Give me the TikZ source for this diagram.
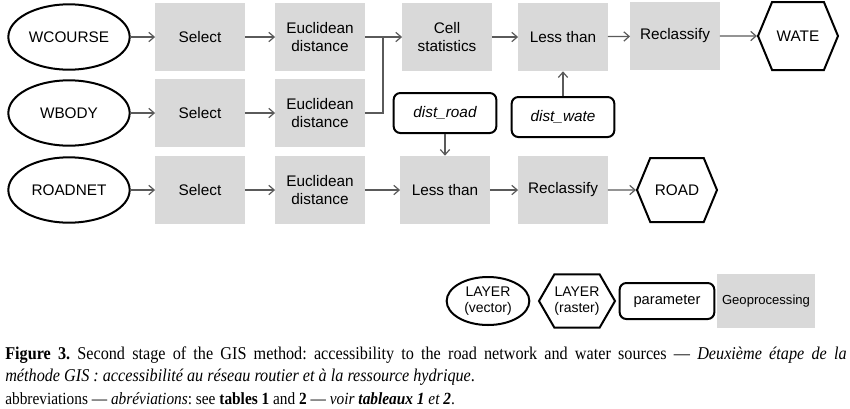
\documentclass[tikz,border=0pt]{standalone}
\usepackage{fontspec}
\setmainfont{Liberation Serif}[FakeStretch=0.9]
\newfontfamily\diafont{Liberation Sans}
\usepackage{tikz}
\usetikzlibrary{shapes.geometric, shapes.symbols, arrows.meta, positioning}
\definecolor{procgray}{RGB}{217,217,217}
\definecolor{flowgray}{RGB}{90,90,90}
\tikzset{
  layer/.style={ellipse, draw=black, fill=white, line width=1.5pt,
    minimum width=91pt, minimum height=49pt, inner sep=0pt,
    font=\diafont\fontsize{11.5}{13.5}\selectfont, align=center},
  raster/.style={signal, signal to=west and east, signal pointer angle=135,
    draw=black, fill=white, line width=1.5pt, inner sep=0pt,
    minimum width=60pt, minimum height=50pt,
    font=\diafont\fontsize{11.5}{13.5}\selectfont, align=center},
  proc/.style={rectangle, fill=procgray, minimum width=67pt,
    minimum height=51pt, inner sep=2pt, align=center,
    font=\diafont\fontsize{11.5}{13.5}\selectfont},
  param/.style={rectangle, draw=black, fill=white, line width=1.5pt,
    rounded corners=5pt, minimum width=77pt, minimum height=30pt,
    font=\diafont\itshape\fontsize{11.5}{13.5}\selectfont},
  flow/.style={-{Straight Barb[length=4pt, width=7pt]}, color=flowgray, line width=0.9pt},
  line/.style={color=flowgray, line width=0.9pt}
}

\begin{document}
\frenchspacing
\begin{tikzpicture}[x=0.75pt, y=-0.75pt]
  \useasboundingbox (0,0) rectangle (850,408);

  % water courses
  \node[layer] (wcourse) at (69,37) {WCOURSE};
  \node[proc] (selwc) at (200,37) {Select};
  \node[proc] (eucwc) at (320,37) {Euclidean\\distance};
  \node[proc] (cellst) at (447,37) {Cell\\statistics};
  \node[proc] (lesswa) at (563,37) {Less than};
  \node[proc] (reclwa) at (675,36) {Reclassify};
  \node[raster, minimum height=51pt] (wate) at (798,36) {WATE};

  % water bodies
  \node[layer] (wbody) at (69,113) {WBODY};
  \node[proc] (selwb) at (200,113) {Select};
  \node[proc] (eucwb) at (320,113) {Euclidean\\distance};
  \node[param] (distroad) at (445,113) {dist\_road};
  \node[param] (distwate) at (563,117) {dist\_wate};

  % road network
  \node[layer] (roadnet) at (69,190) {ROADNET};
  \node[proc] (selrd) at (200,190) {Select};
  \node[proc] (eucrd) at (320,190) {Euclidean\\distance};
  \node[proc] (lessrd) at (445,190) {Less than};
  \node[proc] (reclrd) at (563,190) {Reclassify};
  \node[raster, minimum height=48pt] (road) at (677,190) {ROAD};

  \coordinate (join) at (383,37);

  \draw[flow] (wcourse) -- (selwc);
  \draw[flow] (selwc) -- (eucwc);
  \draw[flow] (eucwc) -- (cellst);
  \draw[line] (eucwb.east) -| (join);
  \draw[flow] (cellst) -- (lesswa);
  \draw[flow] (lesswa) -- (reclwa);
  \draw[flow] (reclwa) -- (wate);
  \draw[flow] (distwate) -- (lesswa);

  \draw[flow] (wbody) -- (selwb);
  \draw[flow] (selwb) -- (eucwb);

  \draw[flow] (roadnet) -- (selrd);
  \draw[flow] (selrd) -- (eucrd);
  \draw[flow] (eucrd) -- (lessrd);
  \draw[flow] (distroad) -- (lessrd);
  \draw[flow] (lessrd) -- (reclrd);
  \draw[flow] (reclrd) -- (road);

  % legend
  \node[layer, minimum width=62pt, minimum height=36pt,
    font=\diafont\fontsize{10.5}{11.5}\selectfont] (legvec) at (488,301) {LAYER\\(vector)};
  \node[raster, minimum width=57pt, minimum height=40pt, signal pointer angle=120,
    font=\diafont\fontsize{10.5}{11.5}\selectfont] (legras) at (577,301) {LAYER\\(raster)};
  \node[param, minimum width=71pt, minimum height=27pt,
    font=\diafont\fontsize{11}{12}\selectfont] (legpar) at (667,301) {parameter};
  \node[proc, minimum width=73pt, minimum height=40pt,
    font=\diafont\fontsize{9.8}{11}\selectfont] (leggeo) at (766,301) {Geoprocessing};

  % caption
  \node[anchor=north west, inner sep=0pt, text width=631pt, align=justify,
    font=\fontsize{13.5}{15.8}\selectfont] (caption) at (5,347)
    {\textbf{Figure 3.} Second stage of the GIS method: accessibility to the road network and water sources --- \textit{Deuxième étape de la}\linebreak
     \textit{méthode GIS : accessibilité au réseau routier et à la ressource hydrique}.};
  \node[anchor=base west, inner sep=0pt, font=\fontsize{12.8}{14}\selectfont] (abbrev) at (5,404)
    {abbreviations --- \textit{abréviations}: see \textbf{tables 1} and \textbf{2} --- \textit{voir \textbf{tableaux 1} et \textbf{2}}.};
\end{tikzpicture}
\end{document}
